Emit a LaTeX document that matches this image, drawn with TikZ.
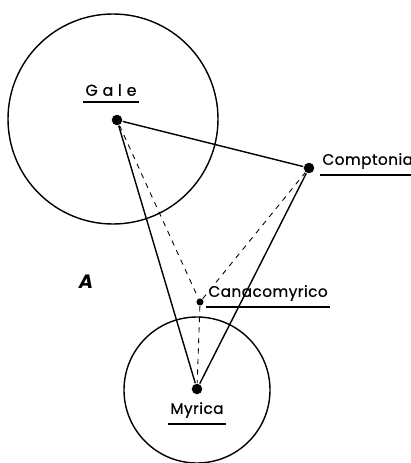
\documentclass[tikz,border=0pt]{standalone}
\usepackage{fontspec}
\setmainfont{Poppins}
\begin{document}
\begin{tikzpicture}[x=0.02cm, y=-0.02cm, line width=0.8pt,
    genus/.style={font=\fontsize{8.7}{10}\selectfont\addfontfeature{LetterSpace=3,FakeBold=0.6}, inner sep=1pt},
    taxon/.style={circle, fill, inner sep=0pt, minimum size=6pt}]
  \useasboundingbox (0,0) rectangle (411,463);
  % Gattungspunkte
  \node[taxon] (gale) at (117,120) {};
  \node[taxon] (comp) at (309,168) {};
  \node[taxon, minimum size=4pt] (cana) at (200,302) {};
  \node[taxon] (myr) at (197,389) {};

  % Kreise
  \draw (113,119) circle (105);
  \draw (197,390) circle (73);

  % Verbindungen
  \draw (gale) -- (comp) -- (myr) -- (gale);
  \draw[dashed, line width=0.5pt] (gale) -- (cana) -- (comp);
  \draw[dashed, line width=0.5pt] (cana) -- (myr);

  % Namen
  \node[genus, font=\fontsize{9}{10}\selectfont\addfontfeature{LetterSpace=30,FakeBold=0.6}] (galeL) at (111,90) {Gale};
  \node[genus, anchor=west] (compL) at (320,161) {Comptonia};
  \node[genus, anchor=west] (canaL) at (206,293) {Canacomyrico};
  \node[genus] (myrL) at (197,410) {Myrica};
  \foreach \n in {galeL,compL,canaL,myrL}
    \draw[line width=1.1pt] ([yshift=-2pt]\n.south west) -- ([yshift=-2pt]\n.south east);
  \node[font=\itshape\bfseries\fontsize{11}{12}\selectfont] (tagA) at (86,282) {A};
\end{tikzpicture}
\end{document}
